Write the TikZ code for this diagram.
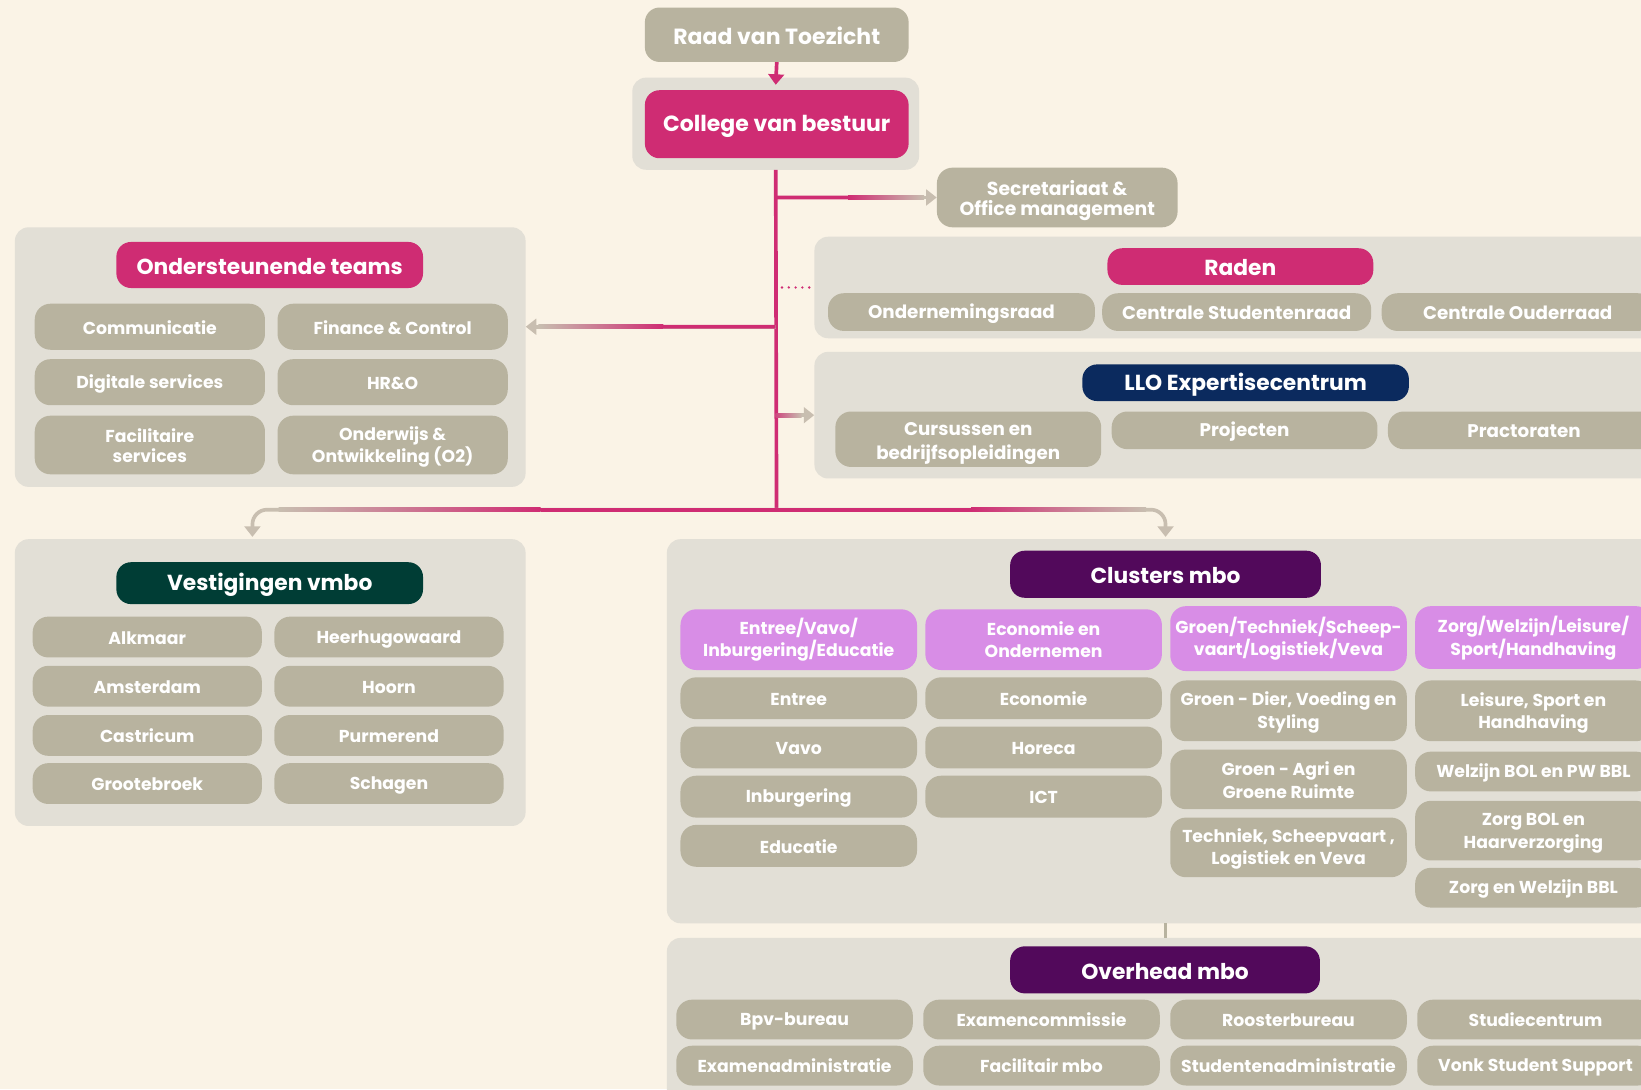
\documentclass[tikz,border=0pt]{standalone}
\usepackage{fontspec}
\setmainfont{Poppins}
\usepackage{xcolor}
\usepackage{tikz}
\usetikzlibrary{calc,arrows.meta,positioning}
\definecolor{cream}{HTML}{FAF3E6}
\definecolor{panelgrey}{HTML}{E2DFD6}
\definecolor{itemgrey}{HTML}{B8B39F}
\definecolor{cvbpink}{HTML}{CF2C73}
\definecolor{llonavy}{HTML}{0B2A5E}
\definecolor{vmbogreen}{HTML}{003D35}
\definecolor{mboplum}{HTML}{52095B}
\definecolor{lilac}{HTML}{D88DE6}
\definecolor{arrowgrey}{HTML}{C8BEB0}
\newcommand\titlefont{\bfseries\fontsize{21}{25}\selectfont}
\newcommand\headfont{\bfseries\fontsize{20.8}{25}\selectfont}
\newcommand\itemfont{\bfseries\fontsize{16.5}{21}\selectfont}
\newcommand\bigitemfont{\bfseries\fontsize{17.5}{22}\selectfont}
\newcommand\istrut{\rule[-2.5pt]{0pt}{19pt}}
\newcommand\bstrut{\rule[-1pt]{0pt}{22pt}}
\newcommand\hstrut{\rule[-2.5pt]{0pt}{23pt}}
\tikzset{
  wh/.style 2 args={minimum width=#1, minimum height=#2},
  panel/.style={fill=panelgrey, rounded corners=13pt, anchor=north west, inner sep=0pt},
  item/.style={fill=itemgrey, rounded corners=15pt, text=white, font=\itemfont,
    align=center, anchor=north west, inner sep=0pt,
    execute at begin node=\istrut, execute at end node=\istrut},
  head/.style={rounded corners=14pt, text=white, font=\headfont,
    align=center, anchor=north west, inner sep=0pt,
    execute at begin node=\hstrut, execute at end node=\hstrut},
  sub/.style={item, fill=lilac},
  big/.style={font=\bigitemfont},
  pinkline/.style={draw=cvbpink, line width=3.5pt},
  greyline/.style={draw=arrowgrey, line width=3.5pt},
  tip/.style={-{Triangle[width=15pt,length=10pt]}}
}
\begin{document}
\begin{tikzpicture}[x=1pt,y=-1pt]
\clip (0,0) rectangle (1568,1041);
\fill[cream] (0,0) rectangle (1568,1041);

% bestuur
\node[head, fill=itemgrey, wh={252}{52}, font=\titlefont] (rvt) at (616,7) {Raad van Toezicht};
\node[panel, wh={274}{88}] (cvbp) at (604,74) {};
\node[head, fill=cvbpink, wh={252}{65}, font=\titlefont] (cvb) at (616,86) {College van bestuur};
\node[item, wh={230}{57}, font=\bfseries\fontsize{18}{19}\selectfont] (sec) at (895,160) {\bstrut Secretariaat \&\\[-4pt]Office management\bstrut};

% raden
\node[panel, wh={850}{97}] (radp) at (778,226) {};
\node[head, fill=cvbpink, wh={254}{35}] (rad) at (1058,237) {Raden};
\node[item, big, wh={255}{36}] (or) at (791,280) {Ondernemingsraad};
\node[item, big, wh={257}{36}] (csr) at (1053,280) {Centrale Studentenraad};
\node[item, big, wh={260}{36}] (cor) at (1320,280) {Centrale Ouderraad};

% llo
\node[panel, wh={850}{121}] (llop) at (778,336) {};
\node[head, fill=llonavy, wh={312}{35}] (llo) at (1034,348) {LLO Expertisecentrum};
\node[item, big, wh={254}{53}] (cur) at (798,393) {\bstrut Cursussen en\\[1pt]bedrijfsopleidingen\bstrut};
\node[item, big, wh={254}{36}] (pro) at (1062,393) {Projecten};
\node[item, big, wh={260}{36}] (pra) at (1326,393) {Practoraten};

% ondersteunende teams
\node[panel, wh={488}{248}] (ondp) at (14,217) {};
\node[head, fill=cvbpink, wh={293}{44}] (ond) at (111,231) {Ondersteunende teams};
\node[item, wh={220}{44}] (com) at (33,290) {Communicatie};
\node[item, wh={220}{44}] (fin) at (265,290) {Finance \& Control};
\node[item, wh={220}{44}] (dig) at (33,343) {Digitale services};
\node[item, wh={220}{44}] (hro) at (265,343) {HR\&O};
\node[item, wh={220}{56}] (fac) at (33,397) {\istrut Facilitaire\\[-2pt]services\istrut};
\node[item, wh={220}{56}] (onw) at (265,397) {\istrut Onderwijs \&\\Ontwikkeling (O2)\istrut};

% vestigingen vmbo
\node[panel, wh={488}{274}] (vmbop) at (14,515) {};
\node[head, fill=vmbogreen, wh={293}{40}] (vmbo) at (111,537) {Vestigingen vmbo};
\node[item, wh={219}{39}] (alk) at (31,589) {Alkmaar};
\node[item, wh={219}{39}] (ams) at (31,636) {Amsterdam};
\node[item, wh={219}{39}] (cas) at (31,683) {Castricum};
\node[item, wh={219}{39}] (gro) at (31,729) {Grootebroek};
\node[item, wh={219}{39}] (hhw) at (262,589) {Heerhugowaard};
\node[item, wh={219}{39}] (hoo) at (262,636) {Hoorn};
\node[item, wh={219}{39}] (pur) at (262,683) {Purmerend};
\node[item, wh={219}{39}] (sch) at (262,729) {Schagen};

% clusters mbo
\node[panel, wh={990}{367}] (clp) at (637,515) {};
\node[head, fill=mboplum, wh={297}{45}] (cl) at (965,526) {Clusters mbo};
\node[sub, wh={226}{58}] (c1) at (650,582) {\istrut Entree/Vavo/\\Inburgering/Educatie\istrut};
\node[sub, wh={226}{58}] (c2) at (884,582) {\istrut Economie en\\Ondernemen\istrut};
\node[sub, wh={226}{62}] (c3) at (1118,579) {\istrut Groen/Techniek/Scheep-\\vaart/Logistiek/Veva\istrut};
\node[sub, wh={226}{60}] (c4) at (1352,579) {\istrut Zorg/Welzijn/Leisure/\\Sport/Handhaving\istrut};
\node[item, wh={226}{40}] (ent) at (650,647) {Entree};
\node[item, wh={226}{40}] (vav) at (650,694) {Vavo};
\node[item, wh={226}{40}] (inb) at (650,741) {Inburgering};
\node[item, wh={226}{40}] (edu) at (650,788) {Educatie};
\node[item, wh={226}{40}] (eco) at (884,647) {Economie};
\node[item, wh={226}{40}] (hor) at (884,694) {Horeca};
\node[item, wh={226}{40}] (ict) at (884,741) {ICT};
\node[item, wh={226}{58}] (gdv) at (1118,650) {\istrut Groen - Dier, Voeding en\\Styling\istrut};
\node[item, wh={226}{57}] (gag) at (1118,716) {\istrut Groen - Agri en\\Groene Ruimte\istrut};
\node[item, wh={226}{57}] (tsl) at (1118,781) {\istrut Techniek, Scheepvaart ,\\Logistiek en Veva\istrut};
\node[item, wh={226}{58}] (lsh) at (1352,650) {\istrut Leisure, Sport en\\Handhaving\istrut};
\node[item, wh={226}{38}] (wbp) at (1352,718) {Welzijn BOL en PW BBL};
\node[item, wh={226}{57}] (zbh) at (1352,765) {\istrut Zorg BOL en\\Haarverzorging\istrut};
\node[item, wh={226}{38}] (zwb) at (1352,829) {Zorg en Welzijn BBL};

% overhead mbo
\node[panel, wh={990}{160}] (ovp) at (637,896) {};
\node[head, fill=mboplum, wh={296}{45}] (ov) at (965,904) {Overhead mbo};
\node[item, wh={226}{38}] (bpv) at (646,955) {Bpv-bureau};
\node[item, wh={226}{38}] (exc) at (882,955) {Examencommissie};
\node[item, wh={226}{38}] (roo) at (1118,955) {Roosterbureau};
\node[item, wh={226}{38}] (stc) at (1354,955) {Studiecentrum};
\node[item, wh={226}{38}] (exa) at (646,999) {Examenadministratie};
\node[item, wh={226}{38}] (fmb) at (882,999) {Facilitair mbo};
\node[item, wh={226}{38}] (sta) at (1118,999) {Studentenadministratie};
\node[item, wh={226}{38}] (vss) at (1354,999) {Vonk Student Support};

% connectors
\coordinate (top) at (cvbp.south);
\coordinate (junc) at (742,487);
\draw[pinkline, tip] (rvt.south) -- ($(cvbp.north)+(0,7)$);
\draw[pinkline] (top) -- (junc);
% naar secretariaat
\coordinate (s0) at (top |- sec.west);
\draw[greyline, tip] (s0) -- (sec.west);
\draw[pinkline] (s0) -- ($(s0)!0.45!(sec.west)$);
\shade[left color=cvbpink, right color=arrowgrey]
  ($(s0)!0.45!(sec.west)+(0,-1.75)$) rectangle ($(sec.west)+(-12,1.75)$);
% naar raden
\draw[cvbpink, line width=2.5pt, line cap=round, dash pattern=on 0pt off 6.5pt]
  ($(top |- radp.west)+(6,0)$) -- ($(radp.west)+(-2,0)$);
% naar llo
\coordinate (l0) at (top |- llop.west);
\draw[greyline, tip] (l0) -- (llop.west);
\shade[left color=cvbpink!80!arrowgrey, right color=arrowgrey]
  ($(l0)+(0,-1.75)$) rectangle ($(llop.west)+(-12,1.75)$);
% naar ondersteunende teams
\coordinate (o0) at (top |- fin.east);
\coordinate (o1) at (ondp.east |- fin.east);
\draw[greyline, tip] (o0) -- (o1);
\draw[pinkline] (o0) -- ($(o0)!0.45!(o1)$);
\shade[left color=arrowgrey, right color=cvbpink]
  ($(o1)+(12,-1.75)$) rectangle ($(o0)!0.45!(o1)+(0,1.75)$);
% naar vmbo en mbo
\coordinate (vl) at ($(vmbop.north)+(-17,-2)$);
\coordinate (cr) at ($(cl |- clp.north)+(0,-2)$);
\coordinate (lc) at (junc -| vl);
\coordinate (rc) at (junc -| cr);
\draw[greyline, tip, rounded corners=14pt] (junc) -| (vl);
\draw[greyline, tip, rounded corners=14pt] (junc) -| (cr);
\draw[pinkline] ($(junc)!0.45!(lc)$) -- ($(junc)!0.5!(rc)$);
\shade[left color=arrowgrey, right color=cvbpink]
  ($(junc)!0.95!(lc)+(0,-1.75)$) rectangle ($(junc)!0.45!(lc)+(0,1.75)$);
\shade[left color=cvbpink, right color=arrowgrey]
  ($(junc)!0.5!(rc)+(0,-1.75)$) rectangle ($(junc)!0.95!(rc)+(0,1.75)$);
% clusters naar overhead
\draw[itemgrey, line width=3pt] (cl |- clp.south) -- (cl |- ovp.north);
\end{tikzpicture}
\end{document}
